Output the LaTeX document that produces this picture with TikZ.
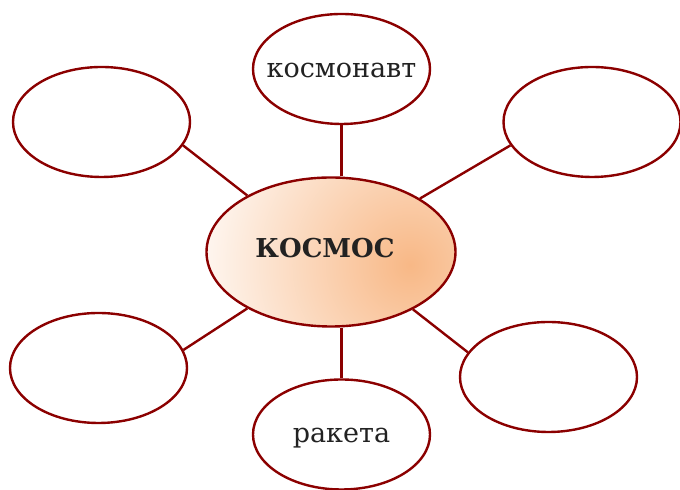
\documentclass[tikz,border=0pt]{standalone}
\usepackage{fontspec}
\setmainfont{DejaVu Serif}
\usepackage{xcolor}
\usetikzlibrary{shapes.geometric,calc}
\definecolor{rim}{RGB}{139,0,0}
\definecolor{peach}{RGB}{248,184,134}
\definecolor{ink}{RGB}{34,34,34}
\tikzset{
  word/.style={ellipse,draw=rim,line width=1.2pt,inner sep=0pt,minimum width=88.5pt,minimum height=55pt},
  wordtext/.style={anchor=base,inner sep=0pt,text=ink,font=\fontsize{13.5}{15}\selectfont},
  hub/.style={ellipse,draw=rim,line width=1.2pt,inner sep=0pt,minimum width=124.5pt,minimum height=74.5pt,
    path picture={\shade[inner color=peach,outer color=white]
      ($(path picture bounding box.center)+(39.5pt,-6.5pt)$) circle (118pt);}},
  hubtext/.style={anchor=base,inner sep=0pt,text=ink,font=\fontsize{13}{15}\selectfont\bfseries},
  spoke/.style={draw=rim,line width=1.2pt}
}

\begin{document}
\begin{tikzpicture}[x=0.5pt,y=-0.5pt]
\useasboundingbox (0,0) rectangle (680,490);
\node[hub] (c) at (331,252) {};
\node[hubtext] (ct) at (325,258) {КОСМОС};
\node[word] (top) at (341.5,69) {};
\node[wordtext] (topt) at (341.5,78) {космонавт};
\node[word] (tl) at (101.5,122) {};
\node[word] (tr) at (592,122) {};
\node[word] (bl) at (98.5,368) {};
\node[word] (br) at (548.5,377) {};
\node[word] (bot) at (341.5,434.5) {};
\node[wordtext] (bott) at (341.5,443) {ракета};
% spokes
\draw[spoke] (top.south) -- (top.south |- c.north);
\draw[spoke] (tl.-16) -- (c.146);
\draw[spoke] (tr.-164) -- (c.31);
\draw[spoke] (bl.12) -- (c.-146);
\draw[spoke] (br.163) -- (c.-35);
\draw[spoke] (bot.north) -- (bot.north |- c.south);
\end{tikzpicture}
\end{document}
